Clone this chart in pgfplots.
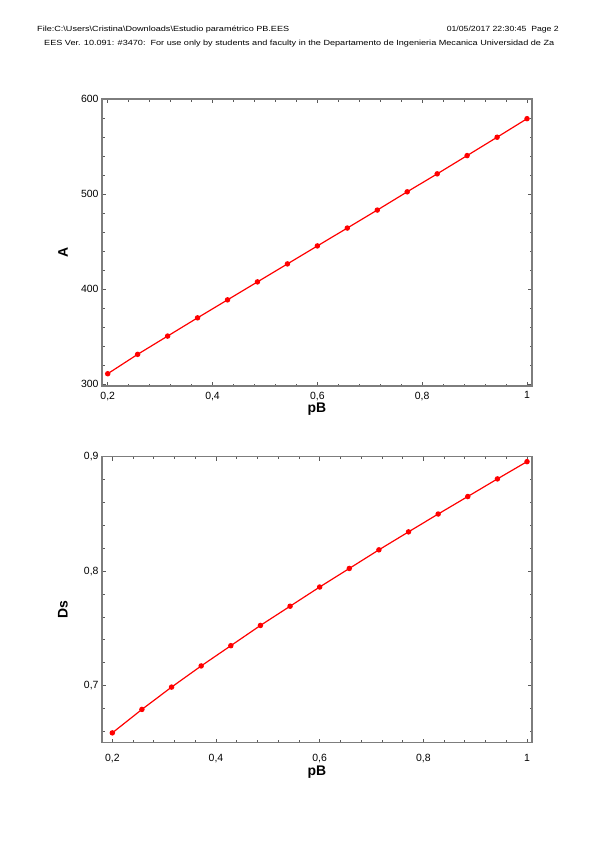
\documentclass[border=0pt]{standalone}
\usepackage{pgfplots}
\pgfplotsset{compat=1.18}
\usepackage{fontspec}
\setmainfont{Liberation Sans}
\definecolor{axgray}{RGB}{125,125,125}
\definecolor{tickgray}{RGB}{90,90,90}
\definecolor{eesred}{RGB}{255,0,0}

\pgfplotstableread{
x A
0.2000 311.1
0.2571 331.5
0.3143 350.7
0.3714 369.9
0.4286 388.8
0.4857 407.7
0.5429 426.6
0.6000 445.5
0.6571 464.3
0.7143 483.2
0.7714 502.4
0.8286 521.3
0.8857 540.5
0.9429 559.8
1.0000 579.3
}\tableA

\pgfplotstableread{
x Ds
0.2000 0.6586
0.2571 0.6791
0.3143 0.6986
0.3714 0.7171
0.4286 0.7348
0.4857 0.7525
0.5429 0.7693
0.6000 0.7861
0.6571 0.8023
0.7143 0.8186
0.7714 0.8343
0.8286 0.8499
0.8857 0.8652
0.9429 0.8806
1.0000 0.8957
}\tableDs

\pgfplotsset{
  eesaxis/.style={
    scale only axis,
    width=430bp,
    axis line style={axgray, line width=1.3bp},
    tick style={tickgray, line width=0.7bp},
    tick align=inside,
    xtick pos=both, ytick pos=both,
    major tick length=4bp,
    minor tick length=2.5bp,
    /pgf/number format/assume math mode=true,
    tick label style={font=\fontsize{10.5}{12}\selectfont},
    label style={font=\bfseries\fontsize{14}{16}\selectfont, inner sep=0bp},
    xtick={0.2,0.4,0.6,0.8,1},
    xticklabels={{0,2},{0,4},{0,6},{0,8},1},
    minor xtick={0.24,0.28,0.32,0.36,0.44,0.48,0.52,0.56,0.64,0.68,0.72,0.76,0.84,0.88,0.92,0.96},
    xlabel={pB},
    clip=false,
  },
  eesplot/.style={eesred, line width=1.2bp, mark=*, mark size=2.1bp, mark options={solid, fill=eesred, draw=eesred}},
}

\begin{document}
\begin{tikzpicture}
\useasboundingbox (0bp,0bp) rectangle (599bp,-848bp);

% page header
\node[anchor=base west, inner sep=0] at (37bp,-31.5bp)
  {\resizebox{252bp}{\height}{\fontsize{7.5}{9}\selectfont File:C:\textbackslash Users\textbackslash Cristina\textbackslash Downloads\textbackslash Estudio paramétrico PB.EES}};
\node[anchor=base east, inner sep=0] at (559bp,-31.5bp)
  {\resizebox{112bp}{\height}{\fontsize{7.5}{9}\selectfont 01/05/2017 22:30:45\ \ Page 2}};
\node[anchor=base west, inner sep=0] at (44bp,-45.5bp)
  {\resizebox{510bp}{\height}{\fontsize{7.5}{9}\selectfont EES Ver. 10.091: \#3470:\ \ For use only by students and faculty in the Departamento de Ingenieria Mecanica Universidad de Za}};

% top chart: A vs pB
\begin{axis}[eesaxis,
  at={(102bp,-386bp)}, anchor=south west,
  height=287bp,
  xmin=0.1891, xmax=1.0095,
  ymin=298.2, ymax=600,
  ytick={300,400,500,600},
  yticklabels={300,400,500,600},
  minor ytick={320,340,360,380,420,440,460,480,520,540,560,580},
  ylabel={A},
  xticklabel style={inner sep=0bp, yshift=-5.5bp},
  xlabel style={at={(axis description cs:0.5,0)}, anchor=center, yshift=-23bp},
  ylabel style={at={(axis description cs:0,0.467)}, anchor=center, yshift=39bp},
]
\addplot[eesplot] table[x=x, y=A] {\tableA};
\end{axis}

% bottom chart: Ds vs pB
\begin{axis}[eesaxis,
  at={(102bp,-742.7bp)}, anchor=south west,
  height=286bp,
  xmin=0.1801, xmax=1.0096,
  ymin=0.65, ymax=0.9,
  ytick={0.7,0.8,0.9},
  yticklabels={{0,7},{0,8},{0,9}},
  minor ytick={0.66,0.68,0.72,0.74,0.76,0.78,0.82,0.84,0.86,0.88},
  ylabel={Ds},
  xticklabel style={yshift=-8bp},
  xlabel style={at={(axis description cs:0.5,0)}, anchor=center, yshift=-29bp},
  ylabel style={at={(axis description cs:0,0.465)}, anchor=center, yshift=39bp},
]
\addplot[eesplot] table[x=x, y=Ds] {\tableDs};
\end{axis}
\end{tikzpicture}
\end{document}
